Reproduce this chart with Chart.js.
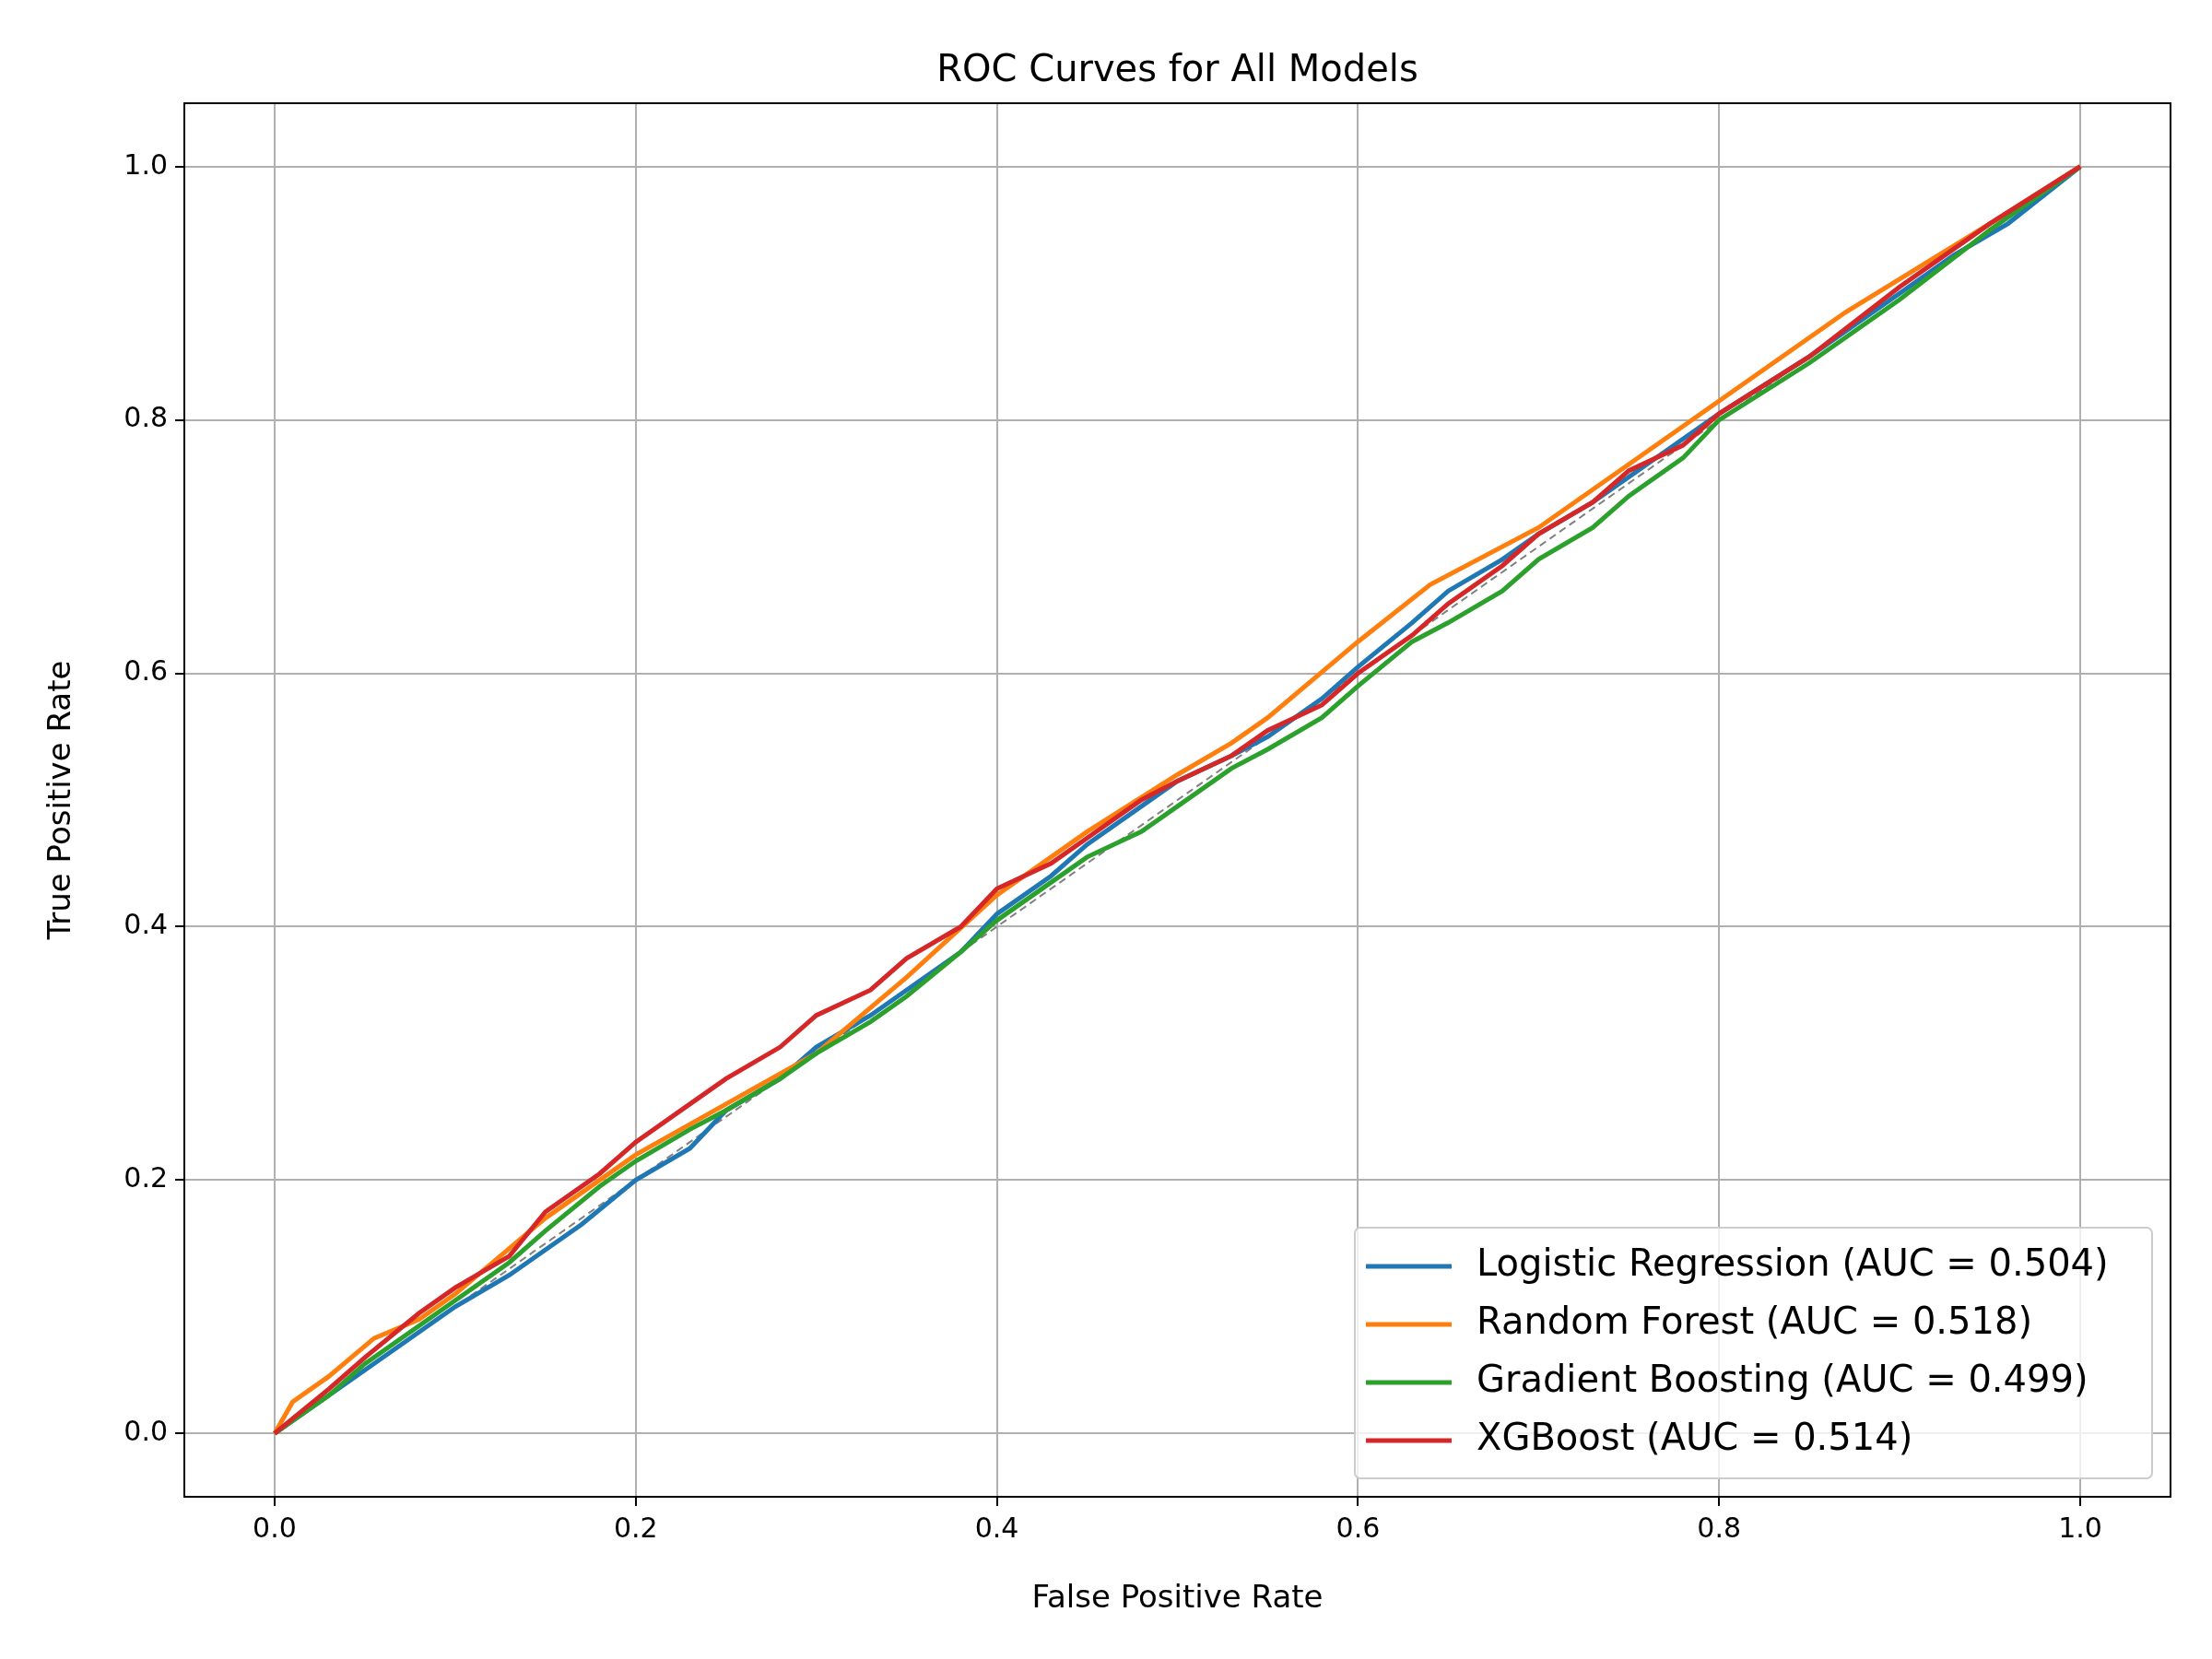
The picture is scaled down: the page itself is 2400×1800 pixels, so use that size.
<!DOCTYPE html>
<html><head><meta charset="utf-8">
<script src="https://cdn.jsdelivr.net/npm/chart.js@4/dist/chart.umd.min.js"></script>
<style>body{margin:0;background:#fff}#wrap{width:2400px;height:1800px}</style>
</head><body><div id="wrap"><canvas id="c" width="2400" height="1800"></canvas></div>
<script>
const tickValues = [0, 0.2, 0.4, 0.6, 0.8, 1.0];
const modelNames = ['Logistic Regression (AUC = 0.504)', 'Random Forest (AUC = 0.518)', 'Gradient Boosting (AUC = 0.499)', 'XGBoost (AUC = 0.514)'];
const modelColors = ['#1f77b4', '#ff7f0e', '#2ca02c', '#d62728'];

const lrFpr = [0, 0.03, 0.05, 0.08, 0.1, 0.13, 0.15, 0.17, 0.2, 0.23, 0.25, 0.28, 0.3, 0.33, 0.35, 0.38, 0.4, 0.43, 0.45, 0.48, 0.5, 0.53, 0.55, 0.58, 0.6, 0.63, 0.65, 0.68, 0.7, 0.73, 0.75, 0.78, 0.8, 0.85, 0.9, 0.93, 0.96, 1];
const lrTpr = [0, 0.03, 0.05, 0.08, 0.1, 0.125, 0.145, 0.165, 0.2, 0.225, 0.255, 0.28, 0.305, 0.33, 0.35, 0.38, 0.41, 0.44, 0.465, 0.495, 0.515, 0.535, 0.55, 0.58, 0.605, 0.64, 0.665, 0.69, 0.71, 0.735, 0.755, 0.785, 0.805, 0.85, 0.9, 0.93, 0.955, 1];
const rfFpr = [0, 0.01, 0.03, 0.055, 0.08, 0.1, 0.15, 0.2, 0.25, 0.3, 0.35, 0.4, 0.45, 0.5, 0.53, 0.55, 0.6, 0.64, 0.7, 0.75, 0.8, 0.87, 0.95, 1];
const rfTpr = [0, 0.025, 0.045, 0.075, 0.09, 0.11, 0.17, 0.22, 0.26, 0.3, 0.36, 0.425, 0.475, 0.52, 0.545, 0.565, 0.625, 0.67, 0.715, 0.765, 0.815, 0.885, 0.955, 1];
const gbFpr = [0, 0.03, 0.05, 0.08, 0.1, 0.13, 0.15, 0.18, 0.2, 0.23, 0.25, 0.28, 0.3, 0.33, 0.35, 0.38, 0.4, 0.43, 0.45, 0.48, 0.5, 0.53, 0.55, 0.58, 0.6, 0.63, 0.65, 0.68, 0.7, 0.73, 0.75, 0.78, 0.8, 0.85, 0.9, 0.95, 1];
const gbTpr = [0, 0.03, 0.055, 0.085, 0.105, 0.135, 0.16, 0.195, 0.215, 0.24, 0.255, 0.28, 0.3, 0.325, 0.345, 0.38, 0.405, 0.435, 0.455, 0.475, 0.495, 0.525, 0.54, 0.565, 0.59, 0.625, 0.64, 0.665, 0.69, 0.715, 0.74, 0.77, 0.8, 0.845, 0.895, 0.95, 1];
const xgFpr = [0, 0.03, 0.05, 0.08, 0.1, 0.13, 0.15, 0.18, 0.2, 0.23, 0.25, 0.28, 0.3, 0.33, 0.35, 0.38, 0.4, 0.43, 0.45, 0.48, 0.5, 0.53, 0.55, 0.58, 0.6, 0.63, 0.65, 0.68, 0.7, 0.73, 0.75, 0.78, 0.8, 0.85, 0.9, 0.95, 1];
const xgTpr = [0, 0.035, 0.06, 0.095, 0.115, 0.14, 0.175, 0.205, 0.23, 0.26, 0.28, 0.305, 0.33, 0.35, 0.375, 0.4, 0.43, 0.45, 0.47, 0.5, 0.515, 0.535, 0.555, 0.575, 0.6, 0.63, 0.655, 0.685, 0.71, 0.735, 0.76, 0.78, 0.805, 0.85, 0.905, 0.955, 1];
const chanceX = [0, 1];
const chanceY = [0, 1];

const toPts = (xs, ys) => xs.map((x, i) => ({ x: x, y: ys[i] }));
const curves = [toPts(lrFpr, lrTpr), toPts(rfFpr, rfTpr), toPts(gbFpr, gbTpr), toPts(xgFpr, xgTpr)];

const datasets = [{
  label: 'chance', data: toPts(chanceX, chanceY), borderColor: '#808080',
  borderWidth: 2, borderDash: [8, 5], pointRadius: 0, order: 10
}];
curves.forEach((d, i) => datasets.push({
  label: modelNames[i], data: d, borderColor: modelColors[i],
  borderWidth: 5, pointRadius: 0, tension: 0, order: 4 - i
}));

const frame = {
  id: 'frame',
  afterDraw(chart) {
    const { ctx, chartArea: a } = chart;
    ctx.save();
    ctx.strokeStyle = '#000'; ctx.lineWidth = 2;
    ctx.strokeRect(a.left, a.top, a.right - a.left, a.bottom - a.top);
    ctx.fillStyle = '#000'; ctx.font = '40px "DejaVu Sans"';
    ctx.textAlign = 'center'; ctx.textBaseline = 'bottom';
    ctx.fillText('ROC Curves for All Models', (a.left + a.right) / 2, a.top - 14);
    // legend box bottom right
    const w = 865, h = 272, x0 = a.right - 20 - w, y0 = a.bottom - 20 - h;
    ctx.fillStyle = 'rgba(255,255,255,0.8)'; ctx.strokeStyle = '#cccccc'; ctx.lineWidth = 2;
    ctx.beginPath(); ctx.roundRect(x0, y0, w, h, 6); ctx.fill(); ctx.stroke();
    ctx.font = '40px "DejaVu Sans"'; ctx.textAlign = 'left'; ctx.textBaseline = 'middle';
    modelNames.forEach((n, i) => {
      const y = y0 + 42 + i * 63;
      ctx.strokeStyle = modelColors[i]; ctx.lineWidth = 5;
      ctx.beginPath(); ctx.moveTo(x0 + 12, y); ctx.lineTo(x0 + 105, y); ctx.stroke();
      ctx.fillStyle = '#000'; ctx.fillText(n, x0 + 132, y);
    });
    ctx.restore();
  }
};

const axis = (title, isX) => ({
  type: 'linear', min: -0.05, max: 1.05,
  afterBuildTicks: s => { s.ticks = tickValues.map(v => ({ value: v })); },
  afterFit: s => { if (isX) s.height = 136; else s.width = 163; },
  grid: { color: '#b0b0b0', lineWidth: 2, tickLength: 10, tickColor: '#000' },
  border: { color: '#000', width: 2 },
  ticks: { color: '#000', font: { size: 30, family: 'DejaVu Sans' }, padding: 8, callback: v => v.toFixed(1) },
  title: { display: true, text: title, color: '#000', font: { size: 34, family: 'DejaVu Sans' }, padding: { top: 10 } }
});

new Chart(document.getElementById('c'), {
  type: 'line',
  data: { datasets },
  options: {
    responsive: false, animation: false, devicePixelRatio: 1,
    layout: { padding: { top: 112, right: 45, left: 37, bottom: 40 } },
    plugins: { legend: { display: false }, tooltip: { enabled: false } },
    scales: { x: axis('False Positive Rate', true), y: axis('True Positive Rate', false) }
  },
  plugins: [frame]
});
</script></body></html>
